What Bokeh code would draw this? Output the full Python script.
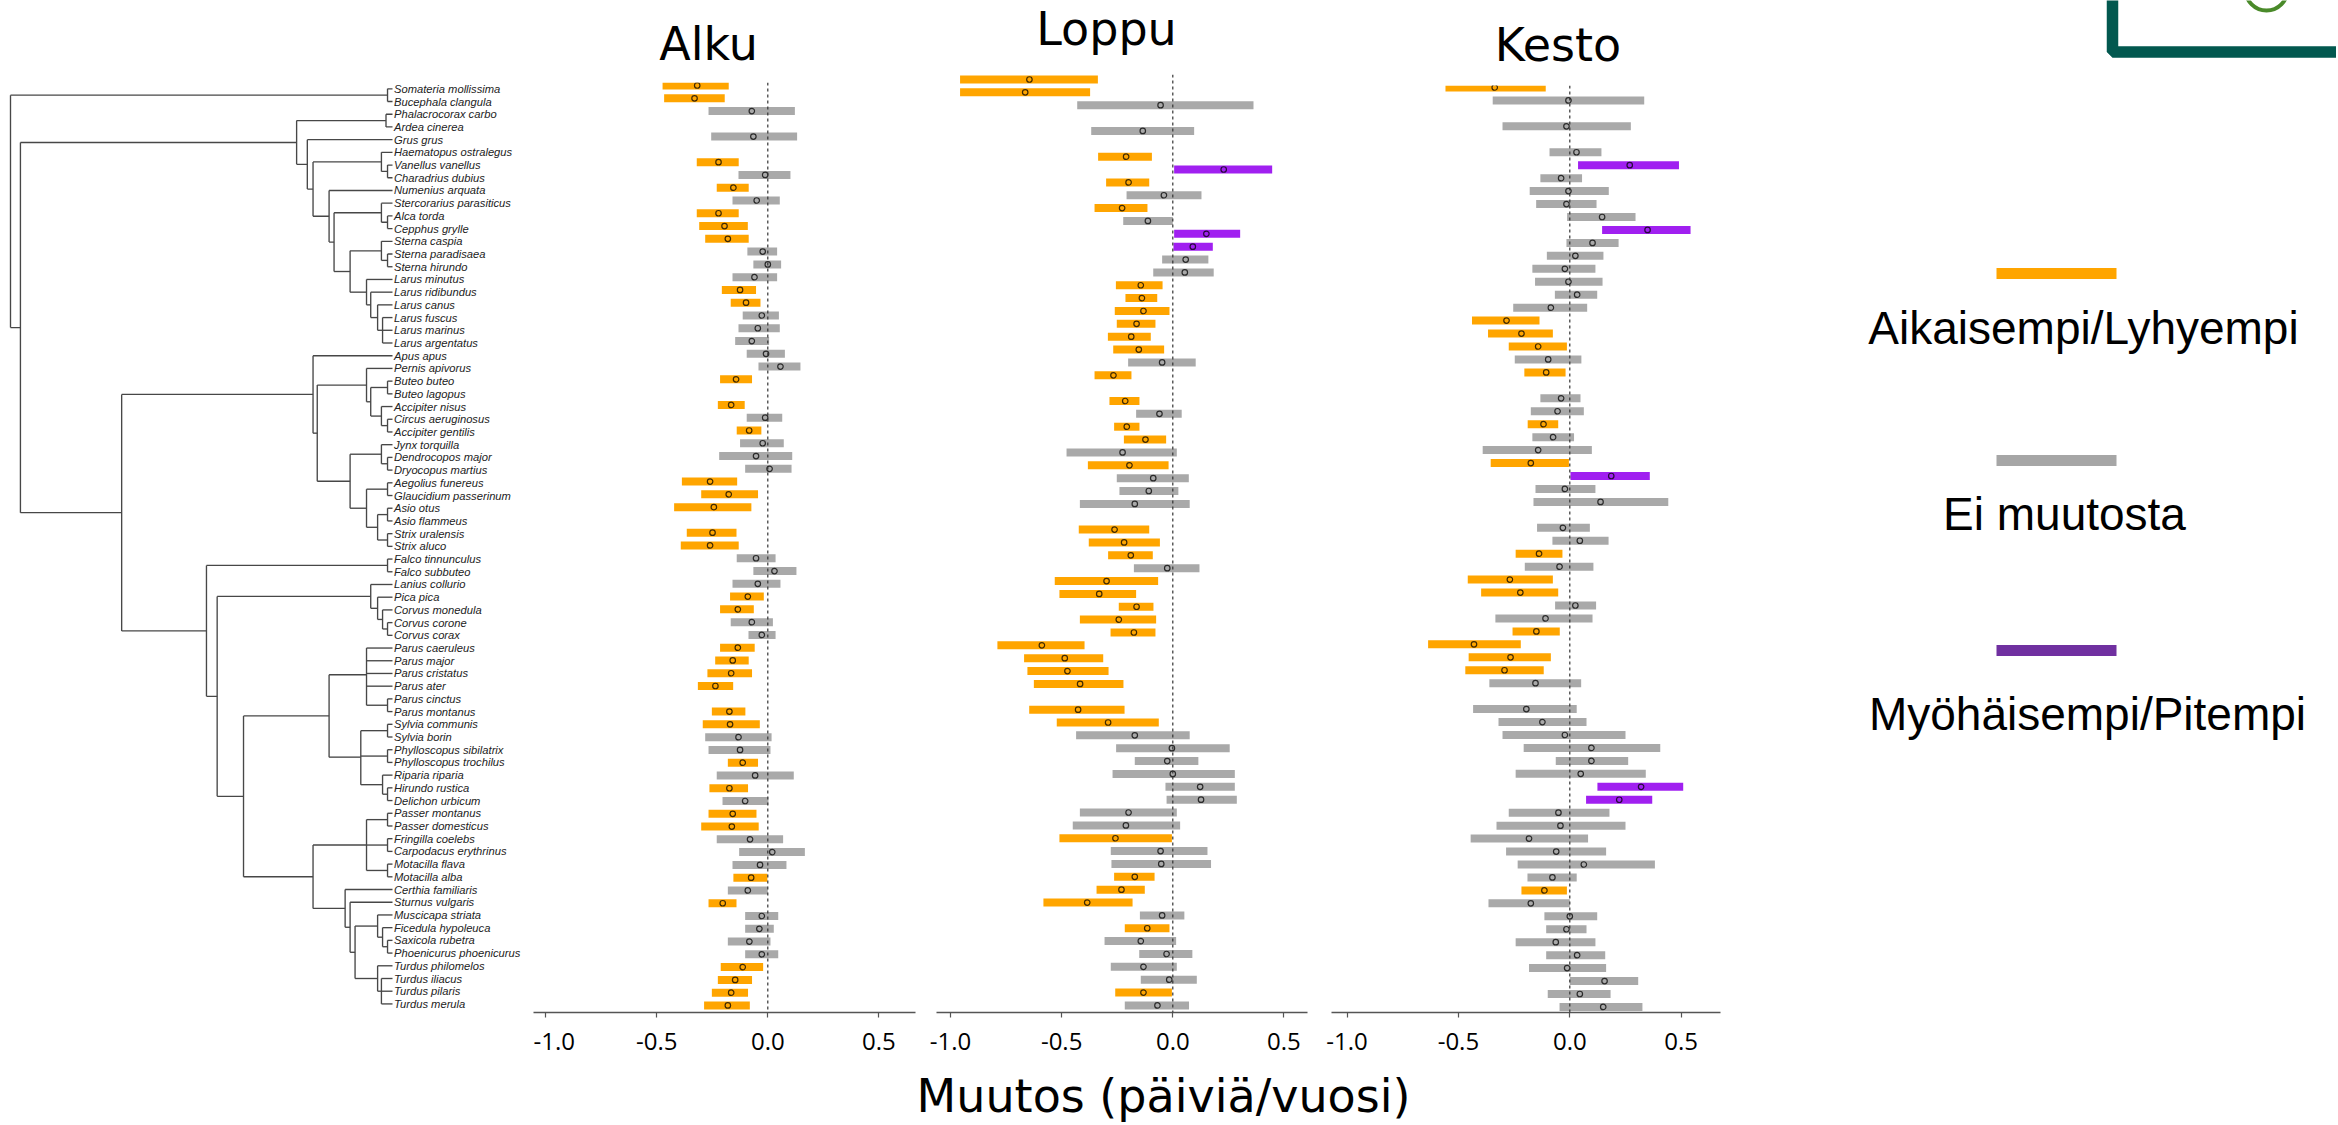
from bokeh.plotting import figure
from bokeh.layouts import row, column
from bokeh.models import Range1d, Span, FixedTicker, PrintfTickFormatter
from bokeh.core.properties import value
from bokeh.embed import file_html
from bokeh.resources import INLINE

# ---------------- data ----------------
SPECIES = [
    "Somateria mollissima", "Bucephala clangula", "Phalacrocorax carbo", "Ardea cinerea",
    "Grus grus", "Haematopus ostralegus", "Vanellus vanellus", "Charadrius dubius",
    "Numenius arquata", "Stercorarius parasiticus", "Alca torda", "Cepphus grylle",
    "Sterna caspia", "Sterna paradisaea", "Sterna hirundo", "Larus minutus",
    "Larus ridibundus", "Larus canus", "Larus fuscus", "Larus marinus",
    "Larus argentatus", "Apus apus", "Pernis apivorus", "Buteo buteo",
    "Buteo lagopus", "Accipiter nisus", "Circus aeruginosus", "Accipiter gentilis",
    "Jynx torquilla", "Dendrocopos major", "Dryocopus martius", "Aegolius funereus",
    "Glaucidium passerinum", "Asio otus", "Asio flammeus", "Strix uralensis",
    "Strix aluco", "Falco tinnunculus", "Falco subbuteo", "Lanius collurio",
    "Pica pica", "Corvus monedula", "Corvus corone", "Corvus corax",
    "Parus caeruleus", "Parus major", "Parus cristatus", "Parus ater",
    "Parus cinctus", "Parus montanus", "Sylvia communis", "Sylvia borin",
    "Phylloscopus sibilatrix", "Phylloscopus trochilus", "Riparia riparia", "Hirundo rustica",
    "Delichon urbicum", "Passer montanus", "Passer domesticus", "Fringilla coelebs",
    "Carpodacus erythrinus", "Motacilla flava", "Motacilla alba", "Certhia familiaris",
    "Sturnus vulgaris", "Muscicapa striata", "Ficedula hypoleuca", "Saxicola rubetra",
    "Phoenicurus phoenicurus", "Turdus philomelos", "Turdus iliacus", "Turdus pilaris",
    "Turdus merula",
]

# phylogeny: [node age, child, child, ...]; tips are species names (age 0)
LARUS = [6.8, "Larus minutus",
         [5.7, "Larus ridibundus",
          [3.9, "Larus canus", [2.6, "Larus fuscus", "Larus marinus", "Larus argentatus"]]]]
CHARADRII = [20.8,
             [2.9, "Haematopus ostralegus", [1.3, "Vanellus vanellus", "Charadrius dubius"]],
             [16.6, "Numenius arquata",
              [15.3,
               [2.9, "Stercorarius parasiticus", [1.3, "Alca torda", "Cepphus grylle"]],
               [11.1, [2.9, "Sterna caspia", [1.3, "Sterna paradisaea", "Sterna hirundo"]], LARUS]]]]
WATERBIRDS = [25.1, [1.7, "Phalacrocorax carbo", "Ardea cinerea"], [22.3, "Grus grus", CHARADRII]]
RAPTORS = [6.8, "Pernis apivorus",
           [5.7, [1.3, "Buteo buteo", "Buteo lagopus"],
            [2.9, "Accipiter nisus", [1.3, "Circus aeruginosus", "Accipiter gentilis"]]]]
PICI_OWLS = [11.1,
             [2.9, "Jynx torquilla", [1.3, "Dendrocopos major", "Dryocopus martius"]],
             [6.8, [1.3, "Aegolius funereus", "Glaucidium passerinum"],
              [3.9, [1.3, "Asio otus", "Asio flammeus"], [1.3, "Strix uralensis", "Strix aluco"]]]]
LANDBIRDS_A = [20.8, "Apus apus", [19.7, RAPTORS, PICI_OWLS]]
CORVOIDEA = [5.7, "Lanius collurio",
             [3.9, "Pica pica", [2.6, "Corvus monedula", [1.3, "Corvus corone", "Corvus corax"]]]]
SYLVIOIDEA = [16.6,
              [6.8, "Parus caeruleus", "Parus major", "Parus cristatus", "Parus ater",
               [1.3, "Parus cinctus", "Parus montanus"]],
              [8.3, [1.3, "Sylvia communis", "Sylvia borin"],
               [1.3, "Phylloscopus sibilatrix", "Phylloscopus trochilus"],
               [2.6, "Riparia riparia", [1.3, "Hirundo rustica", "Delichon urbicum"]]]]
MUSCICAPOIDEA = [12.4, "Certhia familiaris",
                 [11.1, "Sturnus vulgaris",
                  [9.8,
                   [3.9, "Muscicapa striata",
                    [2.6, "Ficedula hypoleuca", [1.3, "Saxicola rubetra", "Phoenicurus phoenicurus"]]],
                   [3.9, "Turdus philomelos",
                    [2.9, "Turdus iliacus", "Turdus pilaris", "Turdus merula"]]]]]
PASSERIDA_B = [20.8,
               [6.8, [1.3, "Passer montanus", "Passer domesticus"],
                [1.3, "Fringilla coelebs", "Carpodacus erythrinus"],
                [1.3, "Motacilla flava", "Motacilla alba"]],
               MUSCICAPOIDEA]
PASSERES = [39.0, SYLVIOIDEA, PASSERIDA_B]
FALCO_PASS = [48.7, [1.3, "Falco tinnunculus", "Falco subbuteo"], [45.9, CORVOIDEA, PASSERES]]
LANDBIRDS = [70.9, LANDBIRDS_A, FALCO_PASS]
NEOAVES = [97.4, WATERBIRDS, LANDBIRDS]
TREE = [100.0, [1.3, "Somateria mollissima", "Bucephala clangula"], NEOAVES]

N = None
ALKU_LO = [-0.474, -0.467, -0.267, N, -0.255, N, -0.320, -0.132, -0.230, -0.159,
           -0.320, -0.309, -0.282, -0.092, -0.065, -0.159, -0.207, -0.167, -0.113, -0.132,
           -0.147, -0.095, -0.042, -0.215, N, -0.225, -0.095, -0.140, -0.125, -0.219,
           -0.102, -0.387, -0.300, -0.422, N, -0.365, -0.392, -0.140, -0.065, -0.159,
           -0.170, -0.215, -0.167, -0.087, -0.215, -0.237, -0.272, -0.315, N, -0.252,
           -0.293, -0.282, -0.267, -0.180, -0.230, -0.263, -0.204, -0.267, -0.300, -0.230,
           -0.129, -0.159, -0.155, -0.180, -0.267, -0.102, -0.102, -0.180, -0.102, -0.212,
           -0.225, -0.252, -0.287]
ALKU_EST = [-0.318, -0.330, -0.072, N, -0.065, N, -0.222, -0.012, -0.155, -0.050,
            -0.222, -0.195, -0.180, -0.023, 0.000, -0.060, -0.125, -0.098, -0.027, -0.045,
            -0.072, -0.008, 0.057, -0.143, N, -0.165, -0.012, -0.084, -0.023, -0.053,
            0.008, -0.260, -0.176, -0.243, N, -0.249, -0.260, -0.053, 0.030, -0.045,
            -0.090, -0.135, -0.072, -0.027, -0.135, -0.158, -0.165, -0.236, N, -0.173,
            -0.170, -0.132, -0.125, -0.113, -0.057, -0.173, -0.102, -0.158, -0.162, -0.080,
            0.020, -0.035, -0.075, -0.090, -0.203, -0.027, -0.038, -0.083, -0.027, -0.113,
            -0.147, -0.165, -0.180]
ALKU_HI = [-0.176, -0.194, 0.122, N, 0.132, N, -0.131, 0.102, -0.086, 0.054,
           -0.131, -0.090, -0.086, 0.042, 0.060, 0.042, -0.053, -0.033, 0.050, 0.054,
           0.006, 0.077, 0.147, -0.071, N, -0.104, 0.065, -0.029, 0.072, 0.110,
           0.107, -0.138, -0.044, -0.074, N, -0.141, -0.131, 0.035, 0.129, 0.057,
           -0.018, -0.063, 0.023, 0.035, -0.059, -0.086, -0.071, -0.156, N, -0.101,
           -0.036, 0.017, 0.012, -0.044, 0.117, -0.089, 0.003, -0.051, -0.041, 0.069,
           0.167, 0.084, -0.002, 0.000, -0.141, 0.047, 0.027, 0.012, 0.047, -0.021,
           -0.071, -0.089, -0.081]

LOPPU_LO = [-0.957, -0.957, -0.430, N, -0.367, N, -0.336, 0.006, -0.300, -0.208,
            -0.352, -0.223, 0.006, 0.003, -0.048, -0.088, -0.256, -0.213, -0.261, -0.252,
            -0.292, -0.268, -0.201, -0.352, N, -0.285, -0.165, -0.264, -0.220, -0.478,
            -0.382, -0.252, -0.240, -0.418, N, -0.423, -0.378, -0.291, -0.175, -0.531,
            -0.510, -0.243, -0.418, -0.280, -0.789, -0.669, -0.654, -0.625, N, -0.646,
            -0.522, -0.435, -0.255, -0.171, -0.271, -0.033, -0.028, -0.418, -0.450, -0.510,
            -0.279, -0.276, -0.264, -0.343, -0.582, -0.148, -0.216, -0.307, -0.151, -0.279,
            -0.144, -0.259, -0.216]
LOPPU_EST = [-0.645, -0.664, -0.055, N, -0.135, N, -0.210, 0.229, -0.199, -0.040,
             -0.228, -0.112, 0.151, 0.090, 0.058, 0.054, -0.144, -0.139, -0.132, -0.163,
             -0.187, -0.153, -0.048, -0.267, N, -0.214, -0.060, -0.207, -0.123, -0.226,
             -0.195, -0.088, -0.108, -0.171, N, -0.262, -0.219, -0.189, -0.025, -0.298,
             -0.331, -0.163, -0.243, -0.175, -0.589, -0.486, -0.474, -0.417, N, -0.426,
             -0.291, -0.171, -0.004, -0.025, 0.000, 0.123, 0.127, -0.199, -0.211, -0.258,
             -0.055, -0.052, -0.171, -0.231, -0.385, -0.048, -0.115, -0.144, -0.028, -0.132,
             -0.016, -0.132, -0.069]
LOPPU_HI = [-0.337, -0.372, 0.363, N, 0.096, N, -0.094, 0.447, -0.106, 0.129,
            -0.114, 0.000, 0.303, 0.180, 0.160, 0.184, -0.046, -0.070, -0.015, -0.078,
            -0.099, -0.039, 0.103, -0.186, N, -0.150, 0.040, -0.150, -0.030, 0.018,
            -0.019, 0.072, 0.025, 0.076, N, -0.106, -0.058, -0.090, 0.120, -0.066,
            -0.165, -0.087, -0.075, -0.078, -0.397, -0.313, -0.289, -0.222, N, -0.217,
            -0.063, 0.076, 0.256, 0.115, 0.279, 0.279, 0.288, 0.018, 0.033, -0.004,
            0.156, 0.172, -0.082, -0.126, -0.181, 0.052, -0.015, 0.015, 0.088, 0.018,
            0.108, -0.004, 0.073]

KESTO_LO = [N, -0.558, -0.346, N, -0.302, N, -0.091, 0.037, -0.132, -0.180,
            -0.151, -0.012, 0.145, -0.015, -0.103, -0.168, -0.156, -0.067, -0.254, -0.439,
            -0.367, -0.274, -0.247, -0.204, N, -0.132, -0.175, -0.189, -0.168, -0.391,
            -0.355, 0.003, -0.154, -0.163, N, -0.147, -0.078, -0.243, -0.202, -0.458,
            -0.398, -0.066, -0.334, -0.257, -0.636, -0.454, -0.469, -0.361, N, -0.434,
            -0.320, -0.302, -0.207, -0.063, -0.243, 0.124, 0.073, -0.274, -0.329, -0.445,
            -0.286, -0.234, -0.190, -0.217, -0.365, -0.114, -0.106, -0.243, -0.106, -0.183,
            0.000, -0.099, -0.046]
KESTO_EST = [N, -0.337, -0.006, N, -0.015, N, 0.030, 0.269, -0.039, -0.006,
             -0.015, 0.145, 0.349, 0.102, 0.025, -0.022, -0.006, 0.033, -0.085, -0.284,
             -0.217, -0.142, -0.097, -0.106, N, -0.039, -0.055, -0.118, -0.075, -0.142,
             -0.175, 0.186, -0.022, 0.138, N, -0.031, 0.045, -0.138, -0.046, -0.269,
             -0.222, 0.025, -0.109, -0.150, -0.430, -0.266, -0.293, -0.154, N, -0.195,
             -0.123, -0.022, 0.097, 0.097, 0.049, 0.320, 0.222, -0.051, -0.042, -0.183,
             -0.061, 0.063, -0.078, -0.114, -0.175, 0.000, -0.015, -0.063, 0.033, -0.012,
             0.156, 0.045, 0.150]
KESTO_HI = [N, -0.108, 0.334, N, 0.274, N, 0.142, 0.490, 0.055, 0.175,
            0.120, 0.295, 0.542, 0.219, 0.151, 0.115, 0.147, 0.123, 0.078, -0.136,
            -0.076, -0.013, 0.052, -0.019, N, 0.048, 0.063, -0.052, 0.019, 0.099,
            -0.004, 0.359, 0.115, 0.442, N, 0.090, 0.174, -0.033, 0.106, -0.076,
            -0.052, 0.118, 0.102, -0.045, -0.220, -0.085, -0.117, 0.051, N, 0.031,
            0.075, 0.250, 0.406, 0.262, 0.341, 0.509, 0.370, 0.178, 0.250, 0.082,
            0.163, 0.382, 0.031, -0.013, 0.000, 0.123, 0.075, 0.115, 0.159, 0.163,
            0.307, 0.183, 0.326]

PANEL_TITLES = ["Alku", "Loppu", "Kesto"]
X_TICKS = [-1.0, -0.5, 0.0, 0.5]
X_LABEL = "Muutos (päiviä/vuosi)"
LEGEND_LABELS = ["Aikaisempi/Lyhyempi", "Ei muutosta", "Myöhäisempi/Pitempi"]

# ---------------- styles / layout ----------------
BAR_COLORS = {"E": "#FFA500", "N": "#A9A9A9", "L": "#A020F0"}
LEGEND_COLORS = ["#FFA500", "#A6A6A6", "#7030A0"]
TITLE_FONT = "DejaVu Sans"
TICK_FONT = "Open Sans"
LEGEND_FONT = "Liberation Sans"

PAGE0 = 0
TOTAL_W = 2336
TOP_H, MID_H, BOT_H = 74, 994, 55
MID_TOP = PAGE0 + TOP_H          # 74
MID_BOT = MID_TOP + MID_H        # 1068
AXIS_Y = 1012

TREE_W = 533
TREE_ROOT_PX, TREE_TIP_PX = 10, 392
LABEL_ROW1_PX, LABEL_STEP_PX = 88.3, 12.71

PANEL_LAYOUT = {
    "Alku":  dict(page_left=533, width=392, frame_left=533, frame_right=915,
                  zero_px=767.3, ppu=222.0, top=82, r1=85.0, step=12.777),
    "Loppu": dict(page_left=925, width=395, frame_left=936, frame_right=1307,
                  zero_px=1172.3, ppu=222.3, top=72, r1=79.0, step=12.86),
    "Kesto": dict(page_left=1320, width=410, frame_left=1331, frame_right=1720,
                  zero_px=1569.3, ppu=222.8, top=85, r1=74.05, step=12.95),
}
LEGEND_LEFT = 1730
LEGEND_W = TOTAL_W + PAGE0 - LEGEND_LEFT
# text positions: (center x, middle y) in page pixels
TITLE_POS = {"Alku": (708, 43.5), "Loppu": (1106, 28), "Kesto": (1557.5, 44.2)}
LEGEND_LINE_X = (1996, 2116)
LEGEND_LINE_Y = [273, 460, 650]
LEGEND_TEXT_POS = [(2083, 327.5), (2064, 513.5), (2087, 713)]
XLABEL_POS = (1163, 1095.5)


def classify(lo, hi):
    if hi < 0:
        return "E"
    if lo > 0:
        return "L"
    return "N"


def blank_fig(width, height, xr, yr):
    p = figure(width=width, height=height, x_range=xr, y_range=yr,
               output_backend="svg", toolbar_location=None, tools="",
               x_axis_location=None, y_axis_location=None, min_border=0)
    p.frame_align = False
    p.outline_line_color = None
    p.xgrid.visible = False
    p.ygrid.visible = False
    p.background_fill_color = "white"
    p.border_fill_color = "white"
    return p


# ---------------- tree ----------------
def walk(node, segs):
    if isinstance(node, str):
        return 0.0, SPECIES.index(node) + 1
    age = node[0]
    kids = [walk(c, segs) for c in node[1:]]
    ys = [k[1] for k in kids]
    for kx, ky in kids:
        segs.append((age, ky, kx, ky))
    segs.append((age, min(ys), age, max(ys)))
    return age, sum(ys) / len(ys)


segs = []
walk(TREE, segs)
root_age = TREE[0]
px_per_age = (TREE_TIP_PX - TREE_ROOT_PX) / root_age
tx0 = root_age + (TREE_ROOT_PX - PAGE0) / px_per_age
tx1 = -(PAGE0 + TREE_W - TREE_TIP_PX) / px_per_age
ty_top = 1 + (MID_TOP - LABEL_ROW1_PX) / LABEL_STEP_PX
ty_bot = 1 + (MID_BOT - LABEL_ROW1_PX) / LABEL_STEP_PX
tree_fig = blank_fig(TREE_W, MID_H, Range1d(tx0, tx1), Range1d(ty_bot, ty_top))
tree_fig.segment(x0=[s[0] for s in segs], y0=[s[1] for s in segs],
                 x1=[s[2] for s in segs], y1=[s[3] for s in segs],
                 line_color="#474747", line_width=1.35)
tree_fig.text(x=[0.0] * len(SPECIES), y=list(range(1, len(SPECIES) + 1)), text=SPECIES,
              x_offset=1.5, text_font=value("Liberation Sans"), text_font_style="italic",
              text_font_size="11.2px", text_color="#222222",
              text_align="left", text_baseline="middle")


# ---------------- panels ----------------
def make_panel(name, lo, est, hi):
    lay = PANEL_LAYOUT[name]
    rows = [i + 1 for i, e in enumerate(est) if e is not None]
    L = [lo[r - 1] for r in rows]
    E = [est[r - 1] for r in rows]
    H = [hi[r - 1] for r in rows]
    C = [BAR_COLORS[classify(a, b)] for a, b in zip(L, H)]
    frame_top = max(lay["top"], MID_TOP)
    r_top = 1 + (frame_top - lay["r1"]) / lay["step"]
    r_bot = 1 + (AXIS_Y - lay["r1"]) / lay["step"]
    x0 = (lay["frame_left"] - lay["zero_px"]) / lay["ppu"]
    x1 = (lay["frame_right"] - lay["zero_px"]) / lay["ppu"]
    p = figure(width=lay["width"], height=MID_H, x_range=Range1d(x0, x1),
               y_range=Range1d(r_bot, r_top), output_backend="svg",
               toolbar_location=None, tools="", y_axis_location=None,
               x_axis_location="below", min_border=0,
               min_border_left=lay["frame_left"] - lay["page_left"],
               min_border_right=lay["page_left"] + lay["width"] - lay["frame_right"],
               min_border_top=frame_top - MID_TOP,
               min_border_bottom=MID_BOT - AXIS_Y)
    p.frame_align = False
    p.outline_line_color = None
    p.xgrid.visible = False
    p.ygrid.visible = False
    p.add_layout(Span(location=0, dimension="height", line_color="#333333",
                      line_dash="3 3", line_width=1.2))
    p.hbar(y=rows, left=L, right=H, height=8.0 / lay["step"],
           fill_color=C, line_color=None)
    p.scatter(x=E, y=rows, marker="circle", size=5.5, fill_color=None,
              line_color="black", line_alpha=0.75, line_width=1.2)
    ax = p.xaxis[0]
    ax.ticker = FixedTicker(ticks=X_TICKS)
    ax.formatter = PrintfTickFormatter(format="%.1f")
    ax.major_label_text_font = TICK_FONT
    ax.major_label_text_font_size = "24px"
    ax.major_label_text_color = "black"
    ax.axis_line_color = "#555555"
    ax.axis_line_width = 1.4
    ax.major_tick_line_color = "#555555"
    ax.major_tick_line_width = 1.2
    ax.major_tick_out = 5
    ax.major_tick_in = 0
    ax.minor_tick_line_color = None
    ax.major_label_standoff = 15
    return p


alku = make_panel("Alku", ALKU_LO, ALKU_EST, ALKU_HI)
loppu = make_panel("Loppu", LOPPU_LO, LOPPU_EST, LOPPU_HI)
kesto = make_panel("Kesto", KESTO_LO, KESTO_EST, KESTO_HI)

# ---------------- legend ----------------
leg = blank_fig(LEGEND_W, MID_H, Range1d(LEGEND_LEFT, LEGEND_LEFT + LEGEND_W),
                Range1d(MID_BOT, MID_TOP))
leg.segment(x0=[LEGEND_LINE_X[0]] * 3, x1=[LEGEND_LINE_X[1]] * 3,
            y0=LEGEND_LINE_Y, y1=LEGEND_LINE_Y, line_color=LEGEND_COLORS,
            line_width=11)
leg.text(x=[p[0] for p in LEGEND_TEXT_POS], y=[p[1] for p in LEGEND_TEXT_POS],
         text=LEGEND_LABELS, text_font=value(LEGEND_FONT), text_font_size="46px",
         text_color="black", text_align="center", text_baseline="middle")

# ---------------- title strip ----------------
top = blank_fig(TOTAL_W, TOP_H, Range1d(PAGE0, PAGE0 + TOTAL_W), Range1d(MID_TOP, PAGE0))
top.text(x=[TITLE_POS[t][0] for t in PANEL_TITLES], y=[TITLE_POS[t][1] for t in PANEL_TITLES],
         text=PANEL_TITLES, text_font=value(TITLE_FONT), text_font_size="46px",
         text_color="black", text_align="center", text_baseline="middle")
top.quad(left=[2112], right=[2500], top=[-40], bottom=[51.5], fill_color=None,
         line_color="#02584F", line_width=11.5)
top.circle(x=[2266], y=[-11], radius=21, fill_color=None, line_color="#4A8A2A",
           line_width=4)

# ---------------- x label strip ----------------
bot = blank_fig(TOTAL_W, BOT_H, Range1d(PAGE0, PAGE0 + TOTAL_W),
                Range1d(MID_BOT + BOT_H, MID_BOT))
bot.text(x=[XLABEL_POS[0]], y=[XLABEL_POS[1]], text=[X_LABEL], text_font=value(TITLE_FONT),
         text_font_size="46px", text_color="black", text_align="center",
         text_baseline="middle")

layout = column(top, row(tree_fig, alku, loppu, kesto, leg), bot)
open("out.html", "w").write(file_html(layout, INLINE, title="Muutos"))
